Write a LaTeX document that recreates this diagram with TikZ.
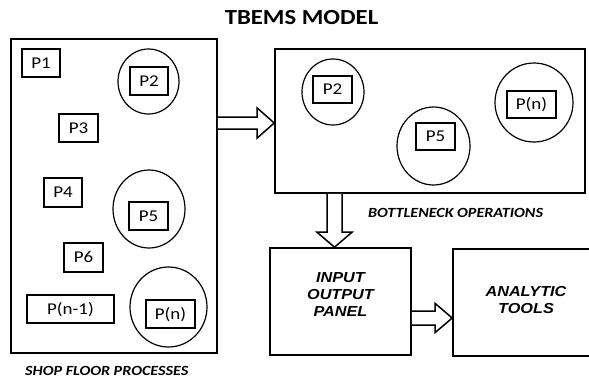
\documentclass[tikz,border=0pt]{standalone}
\usepackage{fontspec}
\setmainfont{Carlito}[FakeStretch=1.15]
\newfontfamily\arialf{Liberation Sans}[FakeStretch=1.12]
\usetikzlibrary{shapes.geometric,calc}
\begin{document}
\begin{tikzpicture}[x=1pt,y=-1pt,
  bigbox/.style={draw,line width=1.6pt,inner sep=0pt,rectangle},
  pbox/.style={draw,line width=1.3pt,inner sep=0pt,minimum height=28pt,text height=10.6pt,text depth=0pt,font=\fontsize{16.5}{16.5}\selectfont},
  ring/.style={draw,ellipse,line width=1.2pt,inner sep=0pt},
  blockarrow/.style={draw,line width=1.5pt,fill=white,line join=miter},
  caplabel/.style={font=\bfseries\itshape\fontsize{14}{14}\selectfont,inner sep=0pt},
  panel/.style={font=\arialf\bfseries\itshape\fontsize{14.5}{17}\selectfont,align=center,inner sep=0pt}]
\useasboundingbox (0,0) rectangle (589,378);
\clip (0,0) rectangle (589,378);
% title
\node[font=\bfseries\fontsize{21.5}{21.5}\selectfont,inner sep=0pt] (title) at (301.5,18) {TBEMS MODEL};
% main boxes
\node[bigbox,minimum width=206pt,minimum height=314pt] (shop) at (114,196) {};
\node[bigbox,minimum width=310pt,minimum height=144pt] (bn) at (430,121) {};
\node[bigbox,minimum width=141pt,minimum height=107pt] (io) at (340.5,301.5) {};
\node[bigbox,minimum width=147pt,minimum height=107pt] (at) at (526.5,302.5) {};
% shop floor processes
\node[pbox,minimum width=38pt] (p1) at (41,63) {P1};
\node[ring,minimum width=61pt,minimum height=65pt] (c2) at (148.5,81.5) {};
\node[pbox,minimum width=38pt] (p2) at (149,81) {P2};
\node[pbox,minimum width=39pt] (p3) at (78.5,128) {P3};
\node[pbox,minimum width=38pt,minimum height=29pt] (p4) at (63,192.5) {P4};
\node[ring,minimum width=72pt,minimum height=78pt] (c5) at (149,209) {};
\node[pbox,minimum width=39pt] (p5) at (148.5,216) {P5};
\node[pbox,minimum width=39pt,minimum height=29pt] (p6) at (83.5,257.5) {P6};
\node[pbox,minimum width=87pt] (pn1) at (70.5,309) {P(n-1)};
\node[ring,minimum width=77pt,minimum height=80pt] (cn) at (168.5,307) {};
\node[pbox,minimum width=49pt] (pn) at (170.5,314) {P(n)};
% bottleneck operations
\node[ring,minimum width=62pt,minimum height=66pt] (bc2) at (333,92) {};
\node[pbox,minimum width=39pt,minimum height=27pt] (bp2) at (332.5,89.5) {P2};
\node[ring,minimum width=73pt,minimum height=78pt] (bc5) at (433.5,146) {};
\node[pbox,minimum width=39pt,minimum height=27pt] (bp5) at (435.5,136.5) {P5};
\node[ring,minimum width=78pt,minimum height=79pt] (bcn) at (534,102.5) {};
\node[pbox,minimum width=49pt,minimum height=27pt] (bpn) at (531.5,104.5) {P(n)};
% labels
\node[caplabel,anchor=west] (shoplbl) at (25,371) {SHOP FLOOR PROCESSES};
\node[caplabel] (bnlbl) at (455.5,213) {BOTTLENECK OPERATIONS};
\node[panel] (iotext) at (340.5,295) {INPUT\\OUTPUT\\PANEL};
\node[panel] (attext) at (526,300) {ANALYTIC\\TOOLS};
% block arrows
\coordinate (a1tip) at ($(bn.west)+(0,2)$);
\draw[blockarrow] ($(shop.east |- a1tip)+(0,-6)$) -- ($(a1tip)+(-17,-6)$) -- ($(a1tip)+(-17,-15)$) -- (a1tip) -- ($(a1tip)+(-17,15)$) -- ($(a1tip)+(-17,6)$) -- ($(shop.east |- a1tip)+(0,6)$);
\coordinate (a2tip) at ($(io.north)+(-6,0)$);
\draw[blockarrow] ($(bn.south -| a2tip)+(-7.5,0)$) -- ($(a2tip)+(-7.5,-15)$) -- ($(a2tip)+(-17.5,-15)$) -- (a2tip) -- ($(a2tip)+(17.5,-15)$) -- ($(a2tip)+(7.5,-15)$) -- ($(bn.south -| a2tip)+(7.5,0)$);
\coordinate (a3tip) at ($(at.west)+(0,15.5)$);
\draw[blockarrow] ($(io.east |- a3tip)+(0,-7)$) -- ($(a3tip)+(-17,-7)$) -- ($(a3tip)+(-17,-14.5)$) -- (a3tip) -- ($(a3tip)+(-17,14.5)$) -- ($(a3tip)+(-17,7)$) -- ($(io.east |- a3tip)+(0,7)$);
\end{tikzpicture}
\end{document}
